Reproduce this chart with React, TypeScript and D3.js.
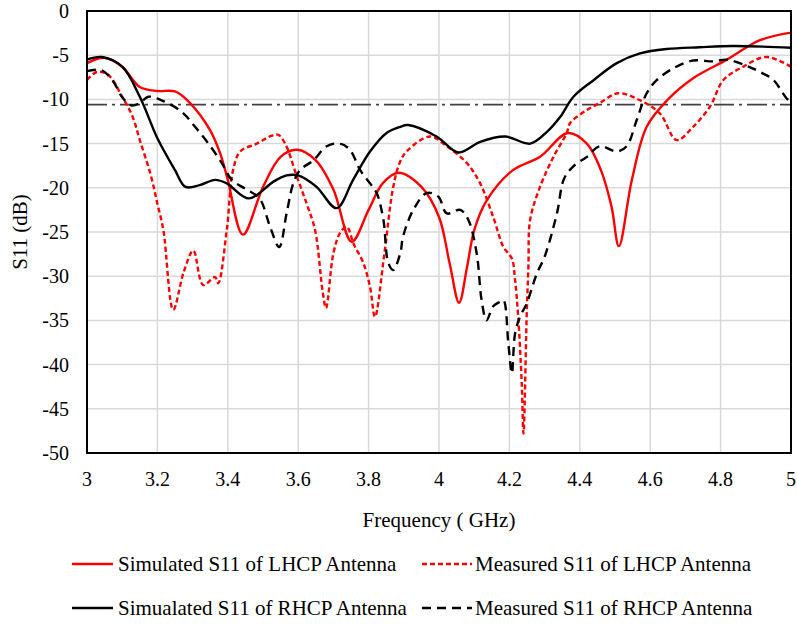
import React from 'react'
import * as d3 from 'd3'

// S11 of the LHCP / RHCP antennas
const simLhcpFreq = [3.0, 3.05, 3.1, 3.15, 3.2, 3.25, 3.29, 3.35, 3.38, 3.4, 3.443, 3.5, 3.55, 3.597, 3.65, 3.7, 3.752, 3.8, 3.84, 3.885, 3.95, 4.0, 4.03, 4.057, 4.08, 4.1, 4.136, 4.21, 4.287, 4.366, 4.42, 4.46, 4.49, 4.511, 4.548, 4.59, 4.648, 4.722, 4.818, 4.912, 5.0]
const simLhcpS11 = [-5.9, -5.3, -6.3, -8.6, -9.05, -9.1, -10.3, -13.5, -16.3, -19.1, -25.3, -19.9, -16.5, -15.7, -16.9, -20.2, -26.1, -22.5, -19.5, -18.3, -19.9, -23.3, -28.5, -33.0, -28.9, -24.8, -21.4, -18.0, -16.5, -13.8, -15.0, -18.0, -22.1, -26.6, -19.1, -13.1, -10.1, -7.6, -5.5, -3.3, -2.45]

const measLhcpFreq = [3.0, 3.028, 3.06, 3.1, 3.13, 3.15, 3.18, 3.2, 3.217, 3.245, 3.275, 3.302, 3.33, 3.364, 3.373, 3.397, 3.415, 3.435, 3.482, 3.525, 3.543, 3.563, 3.596, 3.624, 3.648, 3.67, 3.679, 3.7, 3.719, 3.738, 3.757, 3.785, 3.804, 3.818, 3.845, 3.87, 3.89, 3.91, 3.974, 4.022, 4.079, 4.117, 4.154, 4.183, 4.207, 4.216, 4.225, 4.235, 4.24, 4.249, 4.254, 4.259, 4.287, 4.325, 4.363, 4.372, 4.42, 4.457, 4.509, 4.571, 4.628, 4.675, 4.722, 4.77, 4.808, 4.864, 4.93, 5.0]
const measLhcpS11 = [-7.8, -6.9, -7.2, -9.7, -12.0, -14.6, -18.4, -21.8, -24.8, -33.8, -29.5, -27.1, -31.0, -30.1, -30.8, -24.8, -18.0, -15.9, -15.0, -14.1, -14.0, -15.0, -18.7, -21.8, -24.8, -31.9, -33.6, -27.4, -25.1, -24.4, -26.3, -28.5, -31.2, -34.6, -27.4, -19.9, -17.0, -15.8, -14.2, -15.3, -17.2, -19.5, -23.3, -26.7, -28.0, -30.4, -34.6, -42.1, -47.8, -34.6, -28.9, -23.6, -19.9, -16.5, -13.8, -12.7, -11.2, -10.4, -9.3, -10.1, -11.6, -14.6, -13.1, -10.8, -7.8, -6.3, -5.2, -6.3]

const simRhcpFreq = [3.0, 3.042, 3.1, 3.15, 3.2, 3.25, 3.28, 3.32, 3.364, 3.397, 3.46, 3.53, 3.567, 3.6, 3.652, 3.709, 3.756, 3.804, 3.851, 3.89, 3.912, 3.993, 4.055, 4.117, 4.188, 4.259, 4.306, 4.344, 4.382, 4.44, 4.505, 4.571, 4.647, 4.74, 4.835, 5.0]
const simRhcpS11 = [-5.5, -5.2, -6.3, -9.7, -14.4, -18.0, -19.9, -19.7, -19.1, -19.5, -21.2, -19.3, -18.6, -18.6, -19.9, -22.3, -19.1, -15.9, -13.8, -13.1, -12.9, -14.2, -16.0, -14.8, -14.2, -15.0, -13.7, -12.0, -9.7, -7.8, -5.9, -4.8, -4.3, -4.1, -3.96, -4.15]

const measRhcpFreq = [3.0, 3.042, 3.075, 3.099, 3.127, 3.15, 3.174, 3.212, 3.269, 3.307, 3.345, 3.383, 3.411, 3.449, 3.49, 3.52, 3.546, 3.567, 3.586, 3.605, 3.643, 3.681, 3.719, 3.747, 3.776, 3.804, 3.823, 3.842, 3.856, 3.87, 3.89, 3.898, 3.927, 3.965, 3.998, 4.022, 4.06, 4.083, 4.107, 4.121, 4.135, 4.154, 4.173, 4.183, 4.197, 4.207, 4.216, 4.23, 4.249, 4.278, 4.3, 4.335, 4.355, 4.381, 4.42, 4.457, 4.505, 4.533, 4.562, 4.59, 4.619, 4.665, 4.722, 4.779, 4.817, 4.874, 4.912, 4.95, 4.988, 5.0]
const measRhcpS11 = [-6.8, -6.7, -8.0, -9.7, -10.7, -10.4, -9.7, -10.1, -11.4, -13.1, -15.0, -17.2, -19.1, -20.1, -21.2, -24.4, -26.7, -22.9, -19.5, -18.0, -16.9, -15.3, -15.0, -15.7, -18.0, -19.5, -20.6, -23.6, -28.5, -29.3, -27.4, -25.5, -22.5, -20.6, -21.0, -22.9, -22.5, -23.6, -27.4, -32.7, -35.0, -33.4, -32.9, -32.7, -37.6, -41.0, -36.5, -34.6, -33.1, -29.7, -27.8, -22.9, -19.0, -17.6, -16.5, -15.3, -15.9, -15.3, -12.3, -9.3, -7.8, -6.5, -5.6, -5.7, -5.5, -6.2, -6.9, -7.8, -9.9, -10.2]

const freqTicks = [3, 3.2, 3.4, 3.6, 3.8, 4, 4.2, 4.4, 4.6, 4.8, 5]
const s11Ticks = [0, -5, -10, -15, -20, -25, -30, -35, -40, -45, -50]
const thresholdDb = -10.6

const seriesNames = [
  'Simulated S11 of LHCP Antenna',
  'Measured S11 of LHCP Antenna',
  'Simualated S11 of RHCP Antenna',
  'Measured S11 of RHCP Antenna',
]

const W = 797
const H = 627
const margin = { left: 87, right: 6, top: 11, bottom: 174 }
const FONT = "'Liberation Serif', 'Times New Roman', Tinos, 'DejaVu Serif', serif"

const App = () => {
  const x = d3.scaleLinear().domain([3, 5]).range([margin.left, W - margin.right])
  const y = d3.scaleLinear().domain([-50, 0]).range([H - margin.bottom, margin.top])

  const line = d3
    .line<[number, number]>()
    .x((d) => x(d[0]))
    .y((d) => y(d[1]))
    .curve(d3.curveCatmullRom.alpha(0.5))

  const zip = (f: number[], v: number[]) => f.map((d, i) => [d, v[i]] as [number, number])

  const series = [
    { name: seriesNames[0], data: zip(simLhcpFreq, simLhcpS11), color: '#ff0000', dash: undefined },
    { name: seriesNames[1], data: zip(measLhcpFreq, measLhcpS11), color: '#ff0000', dash: '5 3' },
    { name: seriesNames[2], data: zip(simRhcpFreq, simRhcpS11), color: '#000000', dash: undefined },
    { name: seriesNames[3], data: zip(measRhcpFreq, measRhcpS11), color: '#000000', dash: '9 6' },
  ]

  const [x0, x1] = x.range()
  const [y0, y1] = y.range()

  // legend is 2x2, below the axis title
  const legendPos = [
    { lx: 72, ty: 571 },
    { lx: 422, ty: 571 },
    { lx: 72, ty: 615 },
    { lx: 422, ty: 615 },
  ]

  return (
    <svg width={W} height={H} style={{ position: 'absolute', left: 0, top: 0, background: '#fff', fontFamily: FONT }}>
      <rect width={W} height={H} fill="#fff" />
      {/* grid */}
      {freqTicks.map((t) => (
        <line key={`gx${t}`} x1={x(t)} x2={x(t)} y1={y1} y2={y0} stroke="#d9d9d9" strokeWidth={1.5} />
      ))}
      {s11Ticks.map((t) => (
        <line key={`gy${t}`} x1={x0} x2={x1} y1={y(t)} y2={y(t)} stroke="#d9d9d9" strokeWidth={1.5} />
      ))}

      {/* -10 dB reference */}
      <line x1={x0} x2={x1} y1={y(thresholdDb)} y2={y(thresholdDb)} stroke="#404040" strokeWidth={1.8} strokeDasharray="20 5 3 5" />

      {series.map((s) => (
        <path key={s.name} d={line(s.data) ?? ''} fill="none" stroke={s.color} strokeWidth={2.4} strokeDasharray={s.dash} />
      ))}

      {/* frame */}
      <rect x={x0} y={y1} width={x1 - x0} height={y0 - y1} fill="none" stroke="#000" strokeWidth={2} />

      {/* tick labels */}
      {s11Ticks.map((t) => (
        <text key={`ty${t}`} x={69} y={y(t)} dy="0.35em" textAnchor="end" fontSize={20} fill="#000">
          {t}
        </text>
      ))}
      {freqTicks.map((t) => (
        <text key={`tx${t}`} x={x(t)} y={486} textAnchor="middle" fontSize={20} fill="#000">
          {t}
        </text>
      ))}

      <text x={(x0 + x1) / 2} y={527} textAnchor="middle" fontSize={21} fill="#000">
        Frequency ( GHz)
      </text>
      <text transform={`translate(27 ${(y0 + y1) / 2}) rotate(-90)`} textAnchor="middle" fontSize={21} fill="#000">
        S11 (dB)
      </text>

      {series.map((s, i) => (
        <g key={`lg${i}`}>
          <line
            x1={legendPos[i].lx}
            x2={legendPos[i].lx + (i % 2 === 0 ? 41 : 50)}
            y1={legendPos[i].ty - 7}
            y2={legendPos[i].ty - 7}
            stroke={s.color}
            strokeWidth={2.4}
            strokeDasharray={s.dash}
          />
          <text x={legendPos[i].lx + (i % 2 === 0 ? 46 : 53)} y={legendPos[i].ty} fontSize={21} fill="#000">
            {s.name}
          </text>
        </g>
      ))}
    </svg>
  )
}

export default App
